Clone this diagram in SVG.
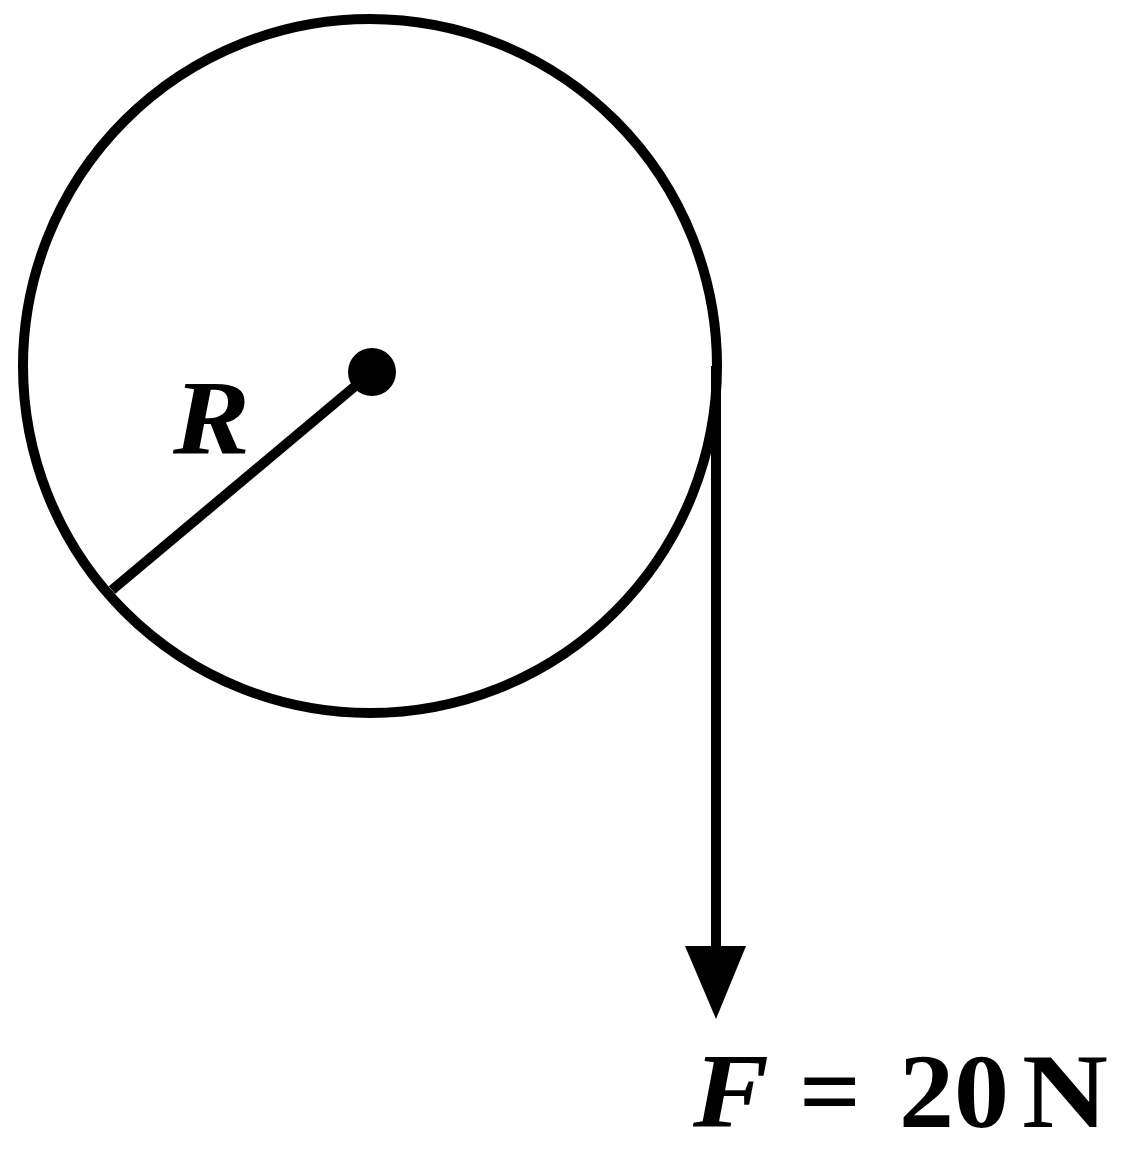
<svg xmlns="http://www.w3.org/2000/svg" width="1125" height="1149" viewBox="0 0 1125 1149">
<style>
.ln{fill:none;stroke:#000;stroke-width:10}
.t{font-family:'Liberation Serif','DejaVu Serif',serif;font-weight:bold;font-size:105px;fill:#000}
.i{font-style:italic}
</style>
<rect width="1125" height="1149" fill="#fff"/>
<g id="wheel">
<circle class="ln" cx="370" cy="366" r="347"/>
<circle cx="372" cy="372" r="24" fill="#000"/>
</g>
<g id="connectors">
<line class="ln" x1="372" y1="372" x2="112" y2="590"/>
<line class="ln" x1="716" y1="366" x2="716" y2="950"/>
<polygon points="685,946 746,946 716,1019" fill="#000"/>
</g>
<g id="labels">
<text class="t i" x="173" y="453" textLength="77" lengthAdjust="spacingAndGlyphs">R</text>
<text class="t i" x="693" y="1127" textLength="76" lengthAdjust="spacingAndGlyphs">F</text>
<text class="t" x="799" y="1127" textLength="62" lengthAdjust="spacingAndGlyphs">=</text>
<text class="t" x="899" y="1127" textLength="110" lengthAdjust="spacingAndGlyphs">20</text>
<text class="t" x="1022" y="1127" textLength="86" lengthAdjust="spacingAndGlyphs">N</text>
</g>
</svg>
